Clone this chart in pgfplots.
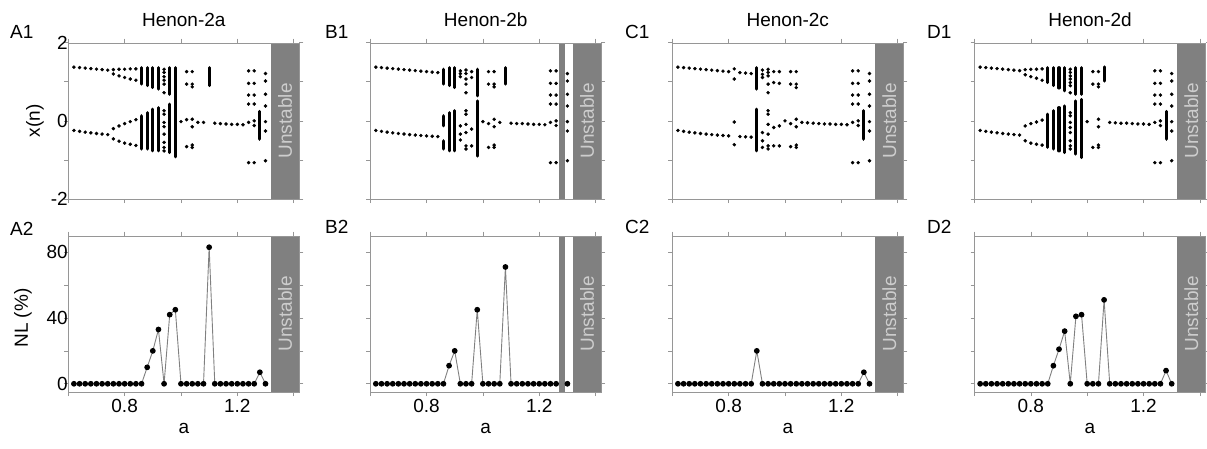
\documentclass[border=0pt]{standalone}
\usepackage{fontspec}
\setmainfont{Liberation Sans}
\usepackage{pgfplots}
\pgfplotsset{compat=1.18}
\definecolor{unst}{RGB}{128,128,128}
\definecolor{unsttext}{RGB}{205,205,205}
\definecolor{framec}{RGB}{150,150,150}
\newcommand{\fs}{\fontsize{19}{22}\selectfont}
\pgfplotsset{
 base/.style={scale only axis, width=231pt, height=156.3pt, xmin=0.6, xmax=1.42, anchor=south west,
   axis line style={framec}, tick style={framec, line width=0.6pt}, tick align=outside,
   major tick length=4pt, minor tick length=4pt,
   xtick={0.8,1.2}, minor xtick={0.6,1.0,1.4}, ticklabel style={font=\fs},
   yticklabel style={xshift=7pt},
   /pgf/number format/assume math mode=true, axis on top, clip=false},
 top/.style={base, ymin=-2, ymax=2, ytick={-2,0,2}, minor ytick={-1,1}, xticklabels={}},
 bot/.style={base, ymin=-5, ymax=90, ytick={0,40,80}, minor ytick={20,60}},
 dots/.style={only marks, mark=*, mark size=1.55pt, black},
 bars/.style={black, no marks, line width=3.1pt, line cap=round, unbounded coords=jump},
 nl/.style={color=unst, line width=0.9pt, mark=*, mark size=2.4pt, mark options={draw=black, fill=black}},
 unstbox/.style={fill=unst, draw=none, no marks},
}
\newcommand{\unstT}{\addplot[unstbox] coordinates {(1.32,-2) (1.42,-2) (1.42,2) (1.32,2)};
 \node[rotate=90, text=unsttext, font=\fs] at (axis cs:1.37,0) {Unstable};}
\newcommand{\unstB}{\addplot[unstbox] coordinates {(1.32,-5) (1.42,-5) (1.42,90) (1.32,90)};
 \node[rotate=90, text=unsttext, font=\fs] at (axis cs:1.37,42.5) {Unstable};}
\begin{document}
\begin{tikzpicture}
\useasboundingbox (0pt,0pt) rectangle (1207pt,448pt);
% ---------------- A1
\begin{axis}[top, at={(68.3pt,249pt)}]
\unstT
\addplot[dots] coordinates {
(0.62,1.375)(0.64,1.363)(0.66,1.350)(0.68,1.337)(0.70,1.324)(0.72,1.311)(0.74,1.298)
(0.62,-0.246)(0.64,-0.269)(0.66,-0.289)(0.68,-0.307)(0.70,-0.324)(0.72,-0.338)(0.74,-0.352)
(0.76,1.31)(0.76,1.20)(0.76,-0.20)(0.76,-0.46)
(0.78,1.32)(0.78,1.15)(0.78,-0.13)(0.78,-0.52)
(0.80,1.32)(0.80,1.11)(0.80,-0.07)(0.80,-0.57)
(0.82,1.33)(0.82,1.07)(0.82,-0.02)(0.82,-0.60)
(0.84,1.33)(0.84,1.04)(0.84,0.03)(0.84,-0.63)
(0.94,1.32)(0.94,1.24)(0.94,1.13)(0.94,1.04)(0.94,0.94)(0.94,0.72)(0.94,0.26)(0.94,0.17)(0.94,-0.04)(0.94,-0.15)(0.94,-0.34)(0.94,-0.55)(0.94,-0.68)(0.94,-0.77)
(1.00,-0.02)
(1.02,1.26)(1.02,0.94)(1.02,0.03)(1.02,-0.66)
(1.04,1.26)(1.04,0.94)(1.04,0.87)(1.04,0.04)(1.04,-0.15)(1.04,-0.62)(1.04,-0.68)
(1.06,-0.04)(1.08,-0.04)(1.12,-0.06)(1.14,-0.07)(1.16,-0.08)(1.18,-0.09)(1.20,-0.09)(1.22,-0.10)
(1.24,1.28)(1.24,0.96)(1.24,0.66)(1.24,0.43)(1.24,-0.04)(1.24,-1.07)
(1.26,1.28)(1.26,0.96)(1.26,0.66)(1.26,0.43)(1.26,0.00)(1.26,-0.12)(1.26,-1.07)
(1.30,1.21)(1.30,1.02)(1.30,0.68)(1.30,0.38)(1.30,-0.02)(1.30,-0.26)(1.30,-1.02)
};
\addplot[bars] coordinates {
(0.86,1.36)(0.86,0.94)(0.86,nan)(0.86,0.13)(0.86,-0.72)(0.86,nan)
(0.88,1.36)(0.88,0.90)(0.88,nan)(0.88,0.21)(0.88,-0.72)(0.88,nan)
(0.90,1.36)(0.90,0.85)(0.90,nan)(0.90,0.30)(0.90,-0.77)(0.90,nan)
(0.92,1.36)(0.92,0.81)(0.92,nan)(0.92,0.34)(0.92,-0.77)(0.92,nan)
(0.96,1.36)(0.96,0.68)(0.96,nan)(0.96,0.43)(0.96,-0.81)(0.96,nan)
(0.98,1.36)(0.98,-0.92)(0.98,nan)
(1.10,1.36)(1.10,0.90)(1.10,nan)
(1.28,0.24)(1.28,-0.47)
};
\end{axis}
% ---------------- B1
\begin{axis}[top, at={(370.2pt,249pt)}, yticklabels={}]
\unstT
\addplot[unstbox] coordinates {(1.27,-2) (1.29,-2) (1.29,2) (1.27,2)};
\addplot[dots] coordinates {
(0.62,1.375)(0.64,1.363)(0.66,1.350)(0.68,1.337)(0.70,1.324)(0.72,1.311)(0.74,1.298)(0.76,1.285)(0.78,1.272)(0.80,1.260)(0.82,1.247)(0.84,1.235)
(0.62,-0.246)(0.64,-0.269)(0.66,-0.289)(0.68,-0.307)(0.70,-0.324)(0.72,-0.338)(0.74,-0.352)(0.76,-0.364)(0.78,-0.375)(0.80,-0.385)(0.82,-0.394)(0.84,-0.402)
(0.92,1.28)(0.92,1.21)(0.92,1.13)(0.92,-0.13)(0.92,-0.34)(0.92,-0.49)
(0.94,1.30)(0.94,1.21)(0.94,1.07)(0.94,0.94)(0.94,0.72)(0.94,0.26)(0.94,0.17)(0.94,-0.09)(0.94,-0.30)(0.94,-0.64)(0.94,-0.72)
(0.96,1.26)(0.96,1.11)(0.96,-0.21)(0.96,-0.64)
(1.00,-0.02)
(1.02,1.26)(1.02,0.94)(1.02,-0.07)(1.02,-0.68)
(1.04,1.26)(1.04,0.94)(1.04,0.87)(1.04,0.04)(1.04,-0.15)(1.04,-0.62)(1.04,-0.68)
(1.06,-0.04)(1.10,-0.06)(1.12,-0.07)(1.14,-0.07)(1.16,-0.08)(1.18,-0.09)(1.20,-0.09)(1.22,-0.10)
(1.24,1.28)(1.24,0.96)(1.24,0.66)(1.24,0.43)(1.24,-0.04)(1.24,-1.07)
(1.26,1.28)(1.26,0.96)(1.26,0.66)(1.26,0.43)(1.26,0.00)(1.26,-0.12)(1.26,-1.07)
(1.30,1.21)(1.30,1.02)(1.30,0.68)(1.30,0.38)(1.30,-0.02)(1.30,-0.26)(1.30,-1.02)
};
\addplot[bars] coordinates {
(0.86,1.32)(0.86,0.94)(0.86,nan)(0.86,0.13)(0.86,-0.13)(0.86,nan)(0.86,-0.51)(0.86,-0.72)(0.86,nan)
(0.88,1.36)(0.88,0.90)(0.88,nan)(0.88,0.21)(0.88,-0.77)(0.88,nan)
(0.90,1.36)(0.90,0.85)(0.90,nan)(0.90,0.26)(0.90,-0.77)(0.90,nan)
(0.98,1.32)(0.98,0.64)(0.98,nan)(0.98,0.51)(0.98,-0.90)(0.98,nan)
(1.08,1.36)(1.08,0.94)
};
\end{axis}
% ---------------- C1
\begin{axis}[top, at={(672.3pt,249pt)}, yticklabels={}]
\unstT
\addplot[dots] coordinates {
(0.62,1.375)(0.64,1.363)(0.66,1.350)(0.68,1.337)(0.70,1.324)(0.72,1.311)(0.74,1.298)(0.76,1.285)(0.78,1.272)(0.80,1.260)
(0.62,-0.246)(0.64,-0.269)(0.66,-0.289)(0.68,-0.307)(0.70,-0.324)(0.72,-0.338)(0.74,-0.352)(0.76,-0.364)(0.78,-0.375)(0.80,-0.385)
(0.82,1.33)(0.82,1.07)(0.82,-0.03)(0.82,-0.61)
(0.84,1.235)(0.86,1.223)(0.88,1.211)(0.84,-0.402)(0.86,-0.409)(0.88,-0.416)
(0.92,1.30)(0.92,1.19)(0.92,1.11)(0.92,-0.30)(0.92,-0.51)(0.92,-0.68)
(0.94,1.32)(0.94,1.24)(0.94,1.15)(0.94,0.94)(0.94,0.72)(0.94,0.26)(0.94,0.17)(0.94,-0.09)(0.94,-0.34)(0.94,-0.64)(0.94,-0.72)
(0.96,1.26)(0.96,0.98)(0.96,-0.17)(0.96,-0.64)
(0.98,1.26)(0.98,0.96)(0.98,-0.13)(0.98,-0.64)
(1.00,0.00)
(1.02,1.26)(1.02,0.94)(1.02,-0.07)(1.02,-0.66)
(1.04,1.26)(1.04,0.94)(1.04,0.85)(1.04,0.04)(1.04,-0.15)(1.04,-0.62)(1.04,-0.68)
(1.06,-0.04)(1.08,-0.05)(1.10,-0.06)(1.12,-0.07)(1.14,-0.08)(1.16,-0.08)(1.18,-0.09)(1.20,-0.09)(1.22,-0.10)
(1.24,1.28)(1.24,0.96)(1.24,0.66)(1.24,0.43)(1.24,-0.04)(1.24,-1.07)
(1.26,1.28)(1.26,0.96)(1.26,0.66)(1.26,0.43)(1.26,0.00)(1.26,-0.12)(1.26,-1.07)
(1.30,1.21)(1.30,1.02)(1.30,0.68)(1.30,0.38)(1.30,-0.02)(1.30,-0.26)(1.30,-1.02)
};
\addplot[bars] coordinates {
(0.90,1.36)(0.90,0.81)(0.90,nan)(0.90,0.30)(0.90,-0.77)(0.90,nan)
(1.28,0.26)(1.28,-0.47)
};
\end{axis}
% ---------------- D1
\begin{axis}[top, at={(974.5pt,249pt)}, yticklabels={}]
\unstT
\addplot[dots] coordinates {
(0.62,1.375)(0.64,1.363)(0.66,1.350)(0.68,1.337)(0.70,1.324)(0.72,1.311)(0.74,1.298)(0.76,1.285)
(0.62,-0.246)(0.64,-0.269)(0.66,-0.289)(0.68,-0.307)(0.70,-0.324)(0.72,-0.338)(0.74,-0.352)(0.76,-0.364)
(0.78,1.31)(0.78,1.18)(0.78,-0.13)(0.78,-0.51)
(0.80,1.32)(0.80,1.13)(0.80,-0.07)(0.80,-0.57)
(0.82,1.32)(0.82,1.09)(0.82,-0.03)(0.82,-0.60)
(0.84,1.33)(0.84,1.04)(0.84,0.02)(0.84,-0.62)
(0.94,1.32)(0.94,1.24)(0.94,1.15)(0.94,1.07)(0.94,0.98)(0.94,0.90)(0.94,0.72)(0.94,0.21)(0.94,0.13)(0.94,-0.04)(0.94,-0.17)(0.94,-0.30)(0.94,-0.51)(0.94,-0.64)(0.94,-0.72)
(1.00,-0.02)
(1.02,1.26)(1.02,0.94)(1.02,-0.68)
(1.04,1.26)(1.04,0.94)(1.04,0.87)(1.04,0.04)(1.04,-0.15)(1.04,-0.62)(1.04,-0.68)
(1.08,-0.04)(1.10,-0.05)(1.12,-0.06)(1.14,-0.06)(1.16,-0.07)(1.18,-0.08)(1.20,-0.08)(1.22,-0.09)
(1.24,1.28)(1.24,0.96)(1.24,0.66)(1.24,0.43)(1.24,-0.04)(1.24,-1.07)
(1.26,1.28)(1.26,0.96)(1.26,0.66)(1.26,0.43)(1.26,0.00)(1.26,-0.12)(1.26,-1.07)
(1.30,1.21)(1.30,1.02)(1.30,0.68)(1.30,0.38)(1.30,-0.02)(1.30,-0.26)(1.30,-1.02)
};
\addplot[bars] coordinates {
(0.86,1.36)(0.86,0.98)(0.86,nan)(0.86,0.17)(0.86,-0.68)(0.86,nan)
(0.88,1.36)(0.88,0.90)(0.88,nan)(0.88,0.26)(0.88,-0.72)(0.88,nan)
(0.90,1.36)(0.90,0.84)(0.90,nan)(0.90,0.34)(0.90,-0.77)(0.90,nan)
(0.92,1.36)(0.92,0.77)(0.92,nan)(0.92,0.38)(0.92,-0.81)(0.92,nan)
(0.96,1.36)(0.96,0.68)(0.96,nan)(0.96,0.51)(0.96,-0.85)(0.96,nan)
(0.98,1.36)(0.98,0.68)(0.98,nan)(0.98,0.55)(0.98,-0.94)(0.98,nan)
(1.06,1.38)(1.06,1.02)(1.06,nan)
(1.28,0.24)(1.28,-0.47)
};
\end{axis}
% ---------------- A2
\begin{axis}[bot, at={(68.3pt,56pt)}]
\unstB
\addplot[nl] coordinates {
(0.62,0)(0.64,0)(0.66,0)(0.68,0)(0.70,0)(0.72,0)(0.74,0)(0.76,0)(0.78,0)(0.80,0)(0.82,0)(0.84,0)(0.86,0)
(0.88,10)(0.90,20)(0.92,33)(0.94,0)(0.96,42)(0.98,45)(1.00,0)(1.02,0)(1.04,0)(1.06,0)(1.08,0)(1.10,83)
(1.12,0)(1.14,0)(1.16,0)(1.18,0)(1.20,0)(1.22,0)(1.24,0)(1.26,0)(1.28,7)(1.30,0)
};
\end{axis}
% ---------------- B2
\begin{axis}[bot, at={(370.2pt,56pt)}, yticklabels={}]
\unstB
\addplot[unstbox] coordinates {(1.27,-5) (1.29,-5) (1.29,90) (1.27,90)};
\addplot[nl] coordinates {
(0.62,0)(0.64,0)(0.66,0)(0.68,0)(0.70,0)(0.72,0)(0.74,0)(0.76,0)(0.78,0)(0.80,0)(0.82,0)(0.84,0)(0.86,0)
(0.88,11)(0.90,20)(0.92,0)(0.94,0)(0.96,0)(0.98,45)(1.00,0)(1.02,0)(1.04,0)(1.06,0)(1.08,71)
(1.10,0)(1.12,0)(1.14,0)(1.16,0)(1.18,0)(1.20,0)(1.22,0)(1.24,0)(1.26,0)
};
\addplot[nl, only marks] coordinates {(1.30,0)};
\end{axis}
% ---------------- C2
\begin{axis}[bot, at={(672.3pt,56pt)}, yticklabels={}]
\unstB
\addplot[nl] coordinates {
(0.62,0)(0.64,0)(0.66,0)(0.68,0)(0.70,0)(0.72,0)(0.74,0)(0.76,0)(0.78,0)(0.80,0)(0.82,0)(0.84,0)(0.86,0)
(0.88,0)(0.90,20)(0.92,0)(0.94,0)(0.96,0)(0.98,0)(1.00,0)(1.02,0)(1.04,0)(1.06,0)(1.08,0)(1.10,0)
(1.12,0)(1.14,0)(1.16,0)(1.18,0)(1.20,0)(1.22,0)(1.24,0)(1.26,0)(1.28,7)(1.30,0)
};
\end{axis}
% ---------------- D2
\begin{axis}[bot, at={(974.5pt,56pt)}, yticklabels={}]
\unstB
\addplot[nl] coordinates {
(0.62,0)(0.64,0)(0.66,0)(0.68,0)(0.70,0)(0.72,0)(0.74,0)(0.76,0)(0.78,0)(0.80,0)(0.82,0)(0.84,0)(0.86,0)
(0.88,11)(0.90,21)(0.92,32)(0.94,0)(0.96,41)(0.98,42)(1.00,0)(1.02,0)(1.04,0)(1.06,51)(1.08,0)(1.10,0)
(1.12,0)(1.14,0)(1.16,0)(1.18,0)(1.20,0)(1.22,0)(1.24,0)(1.26,0)(1.28,8)(1.30,0)
};
\end{axis}
% ---------------- texts
\begin{scope}[font=\fs]
\node[anchor=base] at (183.8pt,421pt) {Henon-2a};
\node[anchor=base] at (485.7pt,421pt) {Henon-2b};
\node[anchor=base] at (787.8pt,421pt) {Henon-2c};
\node[anchor=base] at (1090pt,421pt) {Henon-2d};
\node[anchor=base west, inner sep=0] at (10pt,409.7pt) {A1};
\node[anchor=base west, inner sep=0] at (10pt,213pt) {A2};
\node[anchor=base west, inner sep=0] at (325pt,409.7pt) {B1};
\node[anchor=base west, inner sep=0] at (325pt,214.5pt) {B2};
\node[anchor=base west, inner sep=0] at (625pt,409.7pt) {C1};
\node[anchor=base west, inner sep=0] at (625pt,214.5pt) {C2};
\node[anchor=base west, inner sep=0] at (927pt,409.7pt) {D1};
\node[anchor=base west, inner sep=0] at (927pt,214.5pt) {D2};
\node[rotate=90] at (35pt,327.2pt) {x(n)};
\node[rotate=90] at (23pt,130pt) {NL (\%)};
\node[anchor=base] at (183.8pt,15pt) {a};
\node[anchor=base] at (485.7pt,15pt) {a};
\node[anchor=base] at (787.8pt,15pt) {a};
\node[anchor=base] at (1090pt,15pt) {a};
\end{scope}
\end{tikzpicture}
\end{document}
